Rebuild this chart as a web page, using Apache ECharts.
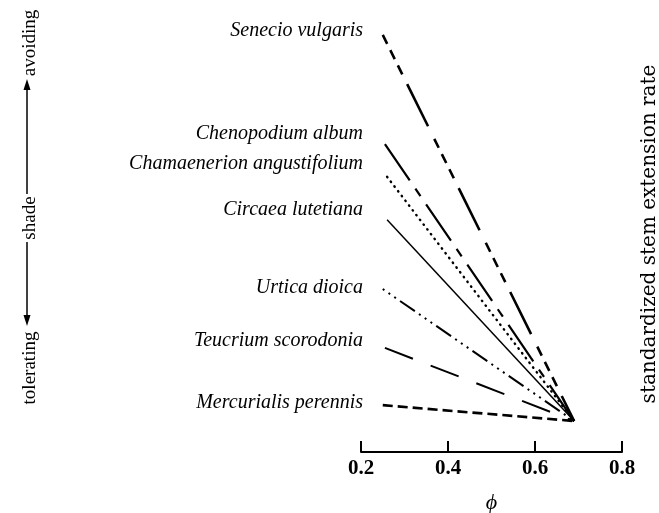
<!DOCTYPE html>
<html>
<head>
<meta charset="utf-8">
<script src="https://cdn.jsdelivr.net/npm/echarts@6/dist/echarts.min.js"></script>
<style>
  html, body { margin: 0; padding: 0; background: #fff; }
  #chart { width: 659px; height: 513px; }
</style>
</head>
<body>
<div id="chart"></div>
<script>
// Species, ordered from shade-avoiding (top) to shade-tolerating (bottom)
const species = [
  'Senecio vulgaris',
  'Chenopodium album',
  'Chamaenerion angustifolium',
  'Circaea lutetiana',
  'Urtica dioica',
  'Teucrium scorodonia',
  'Mercurialis perennis'
];
// Start of each response line (phi, standardized stem extension rate)
const startPhi  = [0.25, 0.255, 0.26, 0.26, 0.25, 0.255, 0.25];
const startRate = [9.70, 7.16, 6.40, 5.40, 3.79, 2.42, 1.09];
// Common point where all lines meet
const endPhi  = 0.69;
const endRate = 0.72;
// Axis ticks
const phiTicks = [0.2, 0.4, 0.6, 0.8];

// Line styles per species
const styles = [
  { width: 2.6, type: [10, 7, 10, 7, 10, 11, 47, 14], cap: 'butt' },
  { width: 2.2, type: [44, 10, 9, 10], cap: 'butt' },
  { width: 2.4, type: [0.5, 5.5], cap: 'round' },
  { width: 1.5, type: 'solid', cap: 'butt' },
  { width: 2.0, type: [2, 5, 2, 5, 2, 5, 18, 5], cap: 'butt' },
  { width: 2.0, type: [30, 19], cap: 'butt' },
  { width: 2.6, type: [10, 5], cap: 'butt' }
];

// Label placement (text right edge at x, vertical centre at y)
const labelY = [31, 134, 164, 210, 288, 341, 403];

const series = species.map((name, i) => ({
  name: name,
  type: 'line',
  silent: true,
  symbol: 'none',
  animation: false,
  data: [[startPhi[i], startRate[i]], [endPhi, endRate]],
  lineStyle: { color: '#000', width: styles[i].width, type: styles[i].type, cap: styles[i].cap }
}));

const serif = '"Liberation Serif", "DejaVu Serif", serif';

const labels = species.map((name, i) => ({
  type: 'text',
  x: 363,
  y: labelY[i],
  silent: true,
  style: {
    text: name,
    font: 'italic 20px ' + serif,
    fill: '#000',
    align: 'right',
    verticalAlign: 'middle'
  }
}));

const lx = 27;
const sideText = (txt, x, y, font) => ({
  type: 'text', x: x, y: y, rotation: Math.PI / 2, silent: true,
  style: { text: txt, font: font, fill: '#000', align: 'center', verticalAlign: 'middle' }
});

const graphics = labels.concat([
  sideText('avoiding', 30, 43, '19px ' + serif),
  sideText('shade', 30, 218, '19px ' + serif),
  sideText('tolerating', 30, 368, '19px ' + serif),
  { type: 'line', silent: true, shape: { x1: lx, y1: 86, x2: lx, y2: 194 }, style: { stroke: '#000', lineWidth: 1.5 } },
  { type: 'line', silent: true, shape: { x1: lx, y1: 242, x2: lx, y2: 318 }, style: { stroke: '#000', lineWidth: 1.5 } },
  { type: 'polygon', silent: true, shape: { points: [[lx, 79], [lx - 3.5, 90], [lx + 3.5, 90]] }, style: { fill: '#000' } },
  { type: 'polygon', silent: true, shape: { points: [[lx, 326], [lx - 3.5, 315], [lx + 3.5, 315]] }, style: { fill: '#000' } },
  sideText('standardized stem extension rate', 650, 234, '20px "DejaVu Serif", serif')
]);

const chart = echarts.init(document.getElementById('chart'), null, { renderer: 'canvas' });
chart.setOption({
  backgroundColor: '#fff',
  animation: false,
  grid: { left: 361, right: 37, top: 22, bottom: 61, containLabel: false, outerBoundsMode: 'none' },
  xAxis: {
    type: 'value',
    min: phiTicks[0],
    max: phiTicks[phiTicks.length - 1],
    interval: 0.2,
    name: 'ϕ',
    nameLocation: 'middle',
    nameGap: 40,
    nameTextStyle: { fontFamily: serif, fontStyle: 'italic', fontSize: 22, color: '#000' },
    axisLine: { show: true, onZero: false, lineStyle: { color: '#000', width: 2 } },
    axisTick: { show: true, inside: true, length: 11, lineStyle: { color: '#000', width: 2 } },
    axisLabel: {
      color: '#000', fontFamily: serif, fontWeight: 'bold', fontSize: 21, margin: 6,
      formatter: v => v.toFixed(1)
    },
    splitLine: { show: false }
  },
  yAxis: { type: 'value', min: 0, max: 10, show: false },
  series: series,
  graphic: graphics
});
</script>
</body>
</html>
